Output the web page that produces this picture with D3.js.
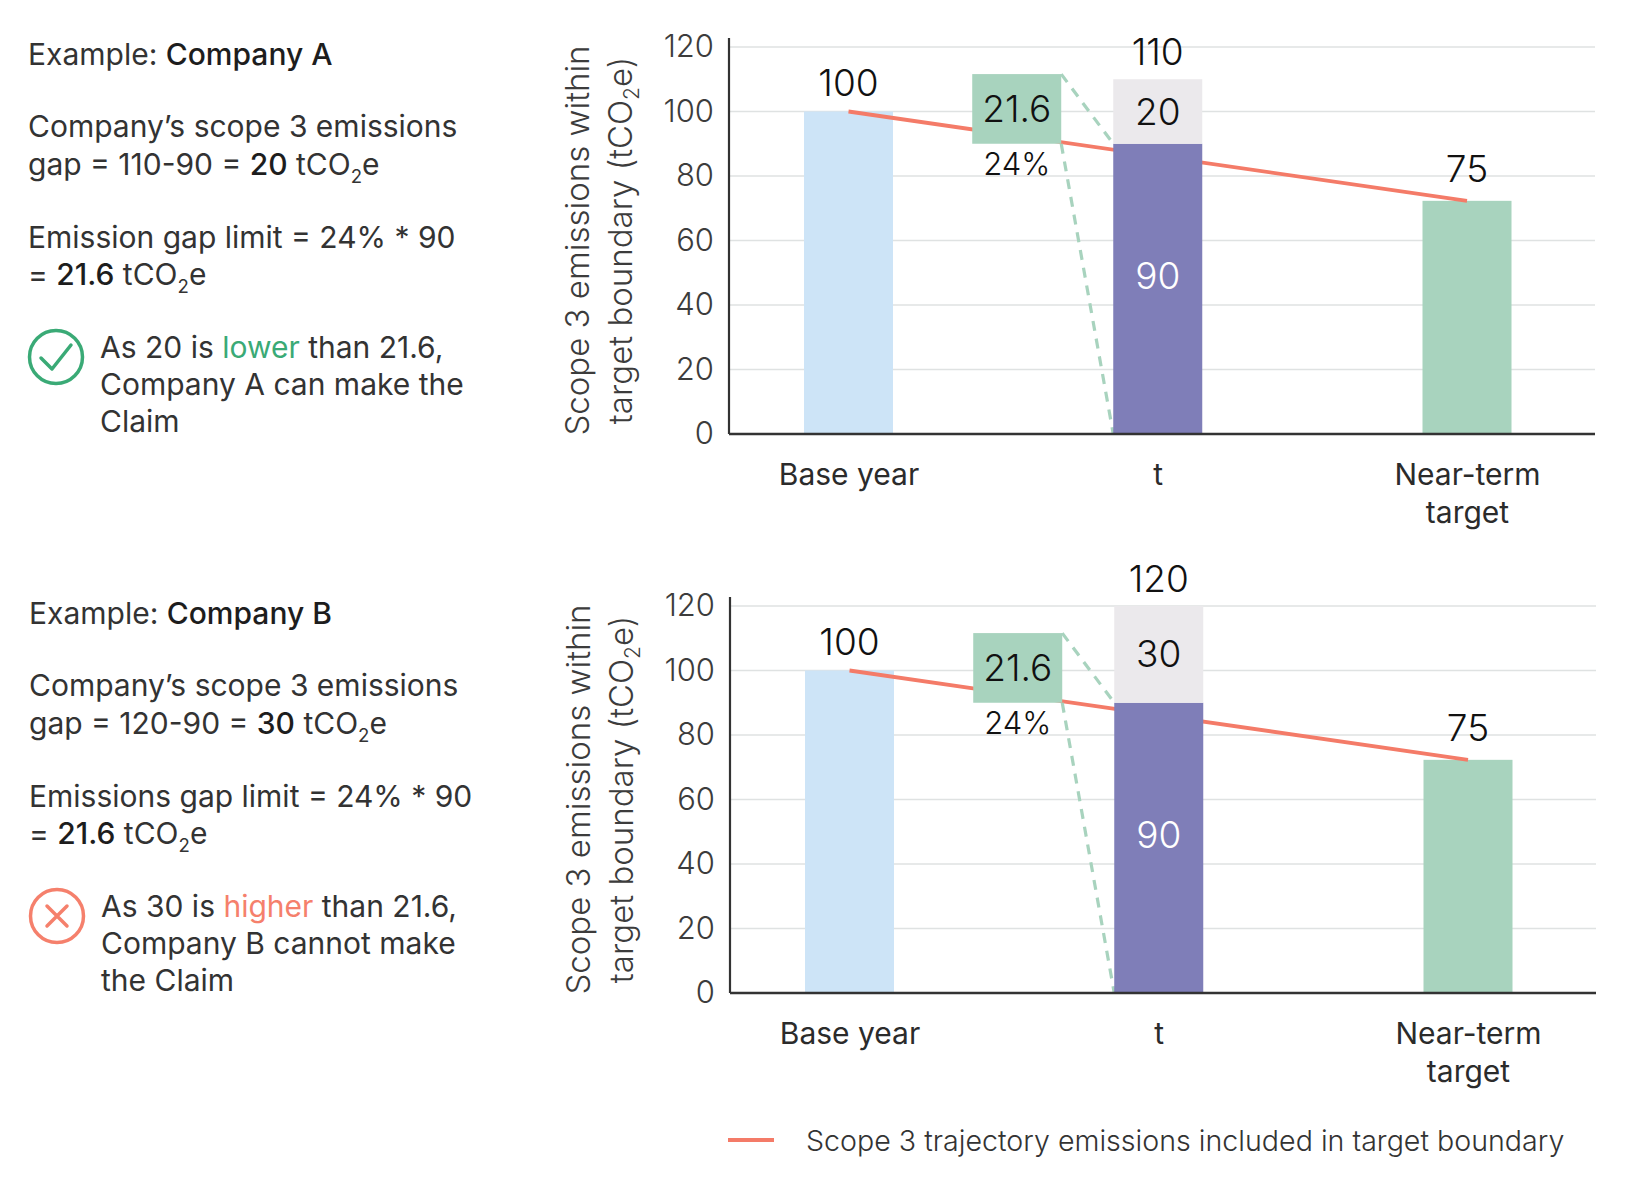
<!DOCTYPE html>
<html>
<head>
<meta charset="utf-8">
<script src="https://cdn.jsdelivr.net/npm/d3@7"></script>
<style>
  html, body { margin: 0; padding: 0; background: #fff; }
  svg { display: block; font-family: Inter, "Noto Sans", sans-serif; }
</style>
</head>
<body>
<script>
// ---------- DATA ----------
const categories = ["Base year", "t", "Near-term target"];
const yTicks = [0, 20, 40, 60, 80, 100, 120];
const companies = ["Company A", "Company B"];
const baseValues = [100, 100];
const tValues = [90, 90];
const gapValues = [20, 30];
const targetValues = [72.3, 72.3];      // drawn bar height
const targetLabels = ["75", "75"];      // printed label
const limitPct = [24, 24];
const limitValues = [21.6, 21.6];
const legendLabel = "Scope 3 trajectory emissions included in target boundary";
const yLabelLines = ["Scope 3 emissions within", "target boundary (tCO|2|e)"];

// left-hand text blocks (segments: t = text, b = bold, c = colour, s = subscript)
const textA = [
  [{t: "Example: "}, {t: "Company A", b: 1}],
  null,
  [{t: "Company’s scope 3 emissions"}],
  [{t: "gap = 110-90 = "}, {t: "20", b: 1}, {t: " tCO"}, {t: "2", s: 1}, {t: "e"}],
  null,
  [{t: "Emission gap limit = 24% * 90"}],
  [{t: "= "}, {t: "21.6", b: 1}, {t: " tCO"}, {t: "2", s: 1}, {t: "e"}]
];
const claimA = [
  [{t: "As 20 is "}, {t: "lower", c: "#3aaa76"}, {t: " than 21.6,"}],
  [{t: "Company A can make the"}],
  [{t: "Claim"}]
];
const textB = [
  [{t: "Example: "}, {t: "Company B", b: 1}],
  null,
  [{t: "Company’s scope 3 emissions"}],
  [{t: "gap = 120-90 = "}, {t: "30", b: 1}, {t: " tCO"}, {t: "2", s: 1}, {t: "e"}],
  null,
  [{t: "Emissions gap limit = 24% * 90"}],
  [{t: "= "}, {t: "21.6", b: 1}, {t: " tCO"}, {t: "2", s: 1}, {t: "e"}]
];
const claimB = [
  [{t: "As 30 is "}, {t: "higher", c: "#f5806c"}, {t: " than 21.6,"}],
  [{t: "Company B cannot make"}],
  [{t: "the Claim"}]
];
const textBlocks = [textA, textB];
const claimBlocks = [claimA, claimB];
const passes = [true, false];

// ---------- STYLE ----------
const C = {
  base: "#cde4f7", tBar: "#7f7eb8", gap: "#ebe9ec", target: "#a8d3be",
  red: "#f47b68", grid: "#dfe2e2", axis: "#333", text: "#333", dark: "#1d1d1d"
};
const W = 1626, H = 1198;
const panelOffsets = [0, 559];
const panelDx = [0, 1];
const barW = 89;

const svg = d3.select("body").append("svg").attr("width", W).attr("height", H);

function writeLine(g, segs, x, y, size) {
  const t = g.append("text").attr("x", x).attr("y", y)
    .attr("font-size", size).attr("fill", C.text).attr("font-weight", 400);
  let pendingUp = false;
  segs.forEach(s => {
    const sp = t.append("tspan").text(s.t);
    if (s.s) {
      sp.attr("font-size", size * 0.62).attr("dy", 8);
      pendingUp = true;
      return;
    }
    if (pendingUp) { sp.attr("dy", -8); pendingUp = false; }
    if (s.b) sp.attr("font-weight", 500).attr("fill", C.dark);
    if (s.c) sp.attr("fill", s.c);
  });
  return t;
}

companies.forEach((comp, i) => {
  const oy = panelOffsets[i], dx = panelDx[i];
  const g = svg.append("g");

  // ----- left text -----
  const lineY = [65, 0, 137, 175, 0, 248, 285];
  textBlocks[i].forEach((segs, k) => {
    if (segs) writeLine(g, segs, 28 + dx, lineY[k] + oy, 30);
  });
  const claimY = [358, 395, 432];
  claimBlocks[i].forEach((segs, k) => writeLine(g, segs, 100 + dx, claimY[k] + oy, 30));

  // icon
  const icx = 56 + dx, icy = 357 + oy;
  const iconColor = passes[i] ? "#3aaa76" : "#f5806c";
  g.append("circle").attr("cx", icx).attr("cy", icy).attr("r", 26.5)
    .attr("fill", "none").attr("stroke", iconColor).attr("stroke-width", 3.5);
  if (passes[i]) {
    g.append("path").attr("d", `M${icx - 15},${icy + 1} L${icx - 4},${icy + 12} L${icx + 15},${icy - 12}`)
      .attr("fill", "none").attr("stroke", iconColor).attr("stroke-width", 3.5)
      .attr("stroke-linecap", "round").attr("stroke-linejoin", "round");
  } else {
    g.append("path").attr("d", `M${icx - 10},${icy - 10} L${icx + 10},${icy + 10} M${icx + 10},${icy - 10} L${icx - 10},${icy + 10}`)
      .attr("fill", "none").attr("stroke", iconColor).attr("stroke-width", 3.5)
      .attr("stroke-linecap", "round");
  }

  // ----- chart -----
  const x0 = 729 + dx, x1 = 1595 + dx;
  const y = d3.scaleLinear().domain([0, 120]).range([434 + oy, 47 + oy]);
  const x = d3.scalePoint().domain(categories).range([848.5 + dx, 1467 + dx]);

  // gridlines
  g.selectAll(".grid").data(yTicks.filter(d => d > 0)).join("line")
    .attr("x1", x0).attr("x2", x1).attr("y1", d => y(d)).attr("y2", d => y(d))
    .attr("stroke", C.grid).attr("stroke-width", 1.6);

  // y axis
  const ya = g.append("g").attr("transform", `translate(${x0},0)`)
    .call(d3.axisLeft(y).tickValues(yTicks).tickSize(0).tickPadding(15));
  ya.select(".domain").remove();
  ya.selectAll("text").attr("font-size", 31).attr("font-weight", 300)
    .attr("fill", "#3c3c3c").attr("font-family", "Inter, sans-serif");
  g.append("line").attr("x1", x0).attr("x2", x0).attr("y1", y(120) - 9).attr("y2", y(0))
    .attr("stroke", C.axis).attr("stroke-width", 2.2);

  // y label
  const ylx = [589, 632];
  yLabelLines.forEach((ln, k) => {
    const parts = ln.split("|");
    const tl = g.append("text").attr("transform", `translate(${ylx[k] + dx},${(y(0) + y(120)) / 2}) rotate(-90)`)
      .attr("text-anchor", "middle").attr("font-size", 33).attr("font-weight", 300).attr("fill", "#3c3c3c");
    parts.forEach((p, j) => {
      if (j === 1) {
        tl.append("tspan").text(p).attr("font-size", 21).attr("dy", 7);
      } else if (j === 2) {
        tl.append("tspan").text(p).attr("dy", -7);
      } else tl.append("tspan").text(p);
    });
  });

  // bars
  const bx = c => x(c) - barW / 2;
  g.append("rect").attr("x", bx(categories[0])).attr("width", barW)
    .attr("y", y(baseValues[i])).attr("height", y(0) - y(baseValues[i])).attr("fill", C.base);
  g.append("rect").attr("x", bx(categories[2])).attr("width", barW)
    .attr("y", y(targetValues[i])).attr("height", y(0) - y(targetValues[i])).attr("fill", C.target);

  // trajectory line
  const traj = [[categories[0], baseValues[i]], [categories[2], targetValues[i]]];
  g.append("path").datum(traj)
    .attr("d", d3.line().x(d => x(d[0])).y(d => y(d[1])))
    .attr("fill", "none").attr("stroke", C.red).attr("stroke-width", 3.8);

  // limit box
  const boxCx = x(categories[1]) - 0.456 * x.step();
  const boxL = boxCx - barW / 2, boxR = boxCx + barW / 2;
  const tLeft = bx(categories[1]);
  g.append("line").attr("x1", boxR).attr("y1", y(tValues[i] + limitValues[i]))
    .attr("x2", tLeft).attr("y2", y(tValues[i]))
    .attr("stroke", C.target).attr("stroke-width", 3.2).attr("stroke-dasharray", "10,8");
  g.append("line").attr("x1", boxR).attr("y1", y(tValues[i]))
    .attr("x2", tLeft).attr("y2", y(0))
    .attr("stroke", C.target).attr("stroke-width", 3.2).attr("stroke-dasharray", "10,8");
  g.append("rect").attr("x", boxL).attr("width", barW)
    .attr("y", y(tValues[i] + limitValues[i])).attr("height", y(tValues[i]) - y(tValues[i] + limitValues[i]))
    .attr("fill", C.target);

  // t stacked bar
  g.append("rect").attr("x", tLeft).attr("width", barW)
    .attr("y", y(tValues[i])).attr("height", y(0) - y(tValues[i])).attr("fill", C.tBar);
  g.append("rect").attr("x", tLeft).attr("width", barW)
    .attr("y", y(tValues[i] + gapValues[i])).attr("height", y(tValues[i]) - y(tValues[i] + gapValues[i]))
    .attr("fill", C.gap);

  // x axis baseline
  g.append("line").attr("x1", x0).attr("x2", x1).attr("y1", y(0)).attr("y2", y(0))
    .attr("stroke", C.axis).attr("stroke-width", 2.4);

  // x labels
  const xa = g.append("g").attr("transform", `translate(0,${y(0)})`)
    .call(d3.axisBottom(x).tickSize(0).tickPadding(30));
  xa.select(".domain").remove();
  xa.selectAll("text").each(function (d) {
    const t = d3.select(this);
    t.text(null).attr("dy", null).attr("font-size", 30).attr("font-weight", 400)
      .attr("fill", "#2b2b2b").attr("font-family", "Inter, sans-serif");
    const lines = d === "Near-term target" ? ["Near-term", "target"] : [d];
    lines.forEach((ln, k) => t.append("tspan").attr("x", 0)
      .attr("dy", k === 0 ? "0.71em" : "1.25em").text(ln));
  });

  // value labels
  const lab = (tx, xx, yy, opts = {}) => g.append("text").attr("x", xx).attr("y", yy)
    .attr("text-anchor", "middle").attr("font-size", opts.size || 37).attr("font-weight", 300)
    .attr("fill", opts.fill || "#111").text(tx);
  const tot = tValues[i] + gapValues[i];
  lab(baseValues[i], x(categories[0]), y(baseValues[i]) - 16);
  lab(tot, x(categories[1]), y(tot) - 14);
  lab(gapValues[i], x(categories[1]), (y(tot) + y(tValues[i])) / 2 + 13);
  lab(tValues[i], x(categories[1]), y(tValues[i] / 2), {fill: "#fff"});
  lab(targetLabels[i], x(categories[2]), y(targetValues[i]) - 19);
  lab(limitValues[i], boxCx, (y(tValues[i]) + y(tValues[i] + limitValues[i])) / 2 + 13);
  lab(limitPct[i] + "%", boxCx, y(tValues[i]) + 31, {size: 31});
});

// legend
const lg = svg.append("g");
lg.append("line").attr("x1", 728).attr("x2", 774).attr("y1", 1140).attr("y2", 1140)
  .attr("stroke", C.red).attr("stroke-width", 4);
lg.append("text").attr("x", 806).attr("y", 1151).attr("font-size", 28.6).attr("font-weight", 300)
  .attr("fill", "#333").text(legendLabel);
</script>
</body>
</html>
